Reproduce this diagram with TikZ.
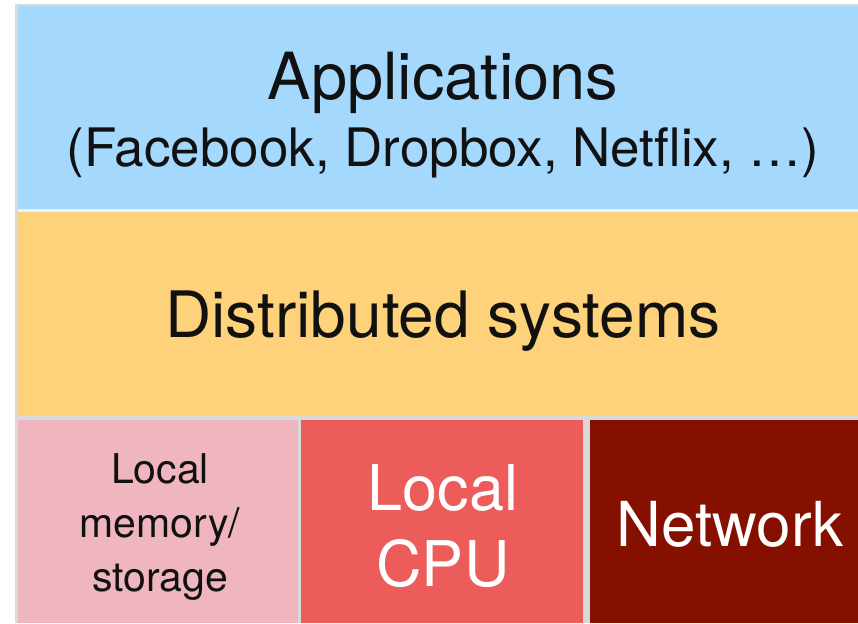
\documentclass[tikz,border=0pt]{standalone}
\usepackage{fontspec}
\setmainfont{TeX Gyre Heros}
\definecolor{appblue}{HTML}{A5D8FD}
\definecolor{dsyellow}{HTML}{FED27A}
\definecolor{mempink}{HTML}{EFB6C0}
\definecolor{cpured}{HTML}{EB5C5A}
\definecolor{netred}{HTML}{851000}
\definecolor{gapgray}{HTML}{D9D9D9}
\definecolor{inkdark}{HTML}{111111}
\tikzset{
  layer/.style={draw=none, anchor=north west, inner sep=0pt, outer sep=0pt},
  darktext/.style={text=inkdark, align=center, inner sep=0pt},
  lighttext/.style={text=white, align=center, inner sep=0pt},
}
\newcommand{\fsz}[2]{\fontsize{#1}{#2}\selectfont}
\begin{document}
\begin{tikzpicture}[x=1pt,y=-1pt]
  \useasboundingbox[fill=white] (0,0) rectangle (858,623);
  % thin grey frame showing through between the layers
  \fill[gapgray] (15,4) rectangle (858,623);
  \fill[white!70!appblue] (18,209) rectangle (858,212);

  % stack of layers
  \node[layer, fill=appblue, minimum width=840pt, minimum height=203pt] (apps) at (18,6) {};
  \node[layer, fill=dsyellow, minimum width=840pt, minimum height=203pt] (dist) at (18,212) {};
  \node[layer, fill=mempink, minimum width=280pt, minimum height=203pt] (mem) at (18,420) {};
  \node[layer, fill=cpured, minimum width=282pt, minimum height=203pt] (cpu) at (301,420) {};
  \node[layer, fill=netred, minimum width=268pt, minimum height=203pt] (net) at (590,420) {};

  % labels
  \node[darktext, font=\fsz{65}{72}] (appsname) at (443,83) {Applications};
  \node[darktext, font=\fsz{53}{60}] (appsex) at (443,153) {(Facebook, Dropbox, Netflix, …)};
  \node[darktext, font=\fsz{64}{72}] (distname) at (443,321) {Distributed systems};
  \node[darktext, font=\fsz{41}{54}] (memname) at (160,527) {Local\\memory/\\storage};
  \node[lighttext, font=\fsz{63}{76}] (cpuname) at (443,526) {Local\\CPU};
  \node[lighttext, font=\fsz{62}{72}] (netname) at (730,524) {Network};
\end{tikzpicture}
\end{document}
